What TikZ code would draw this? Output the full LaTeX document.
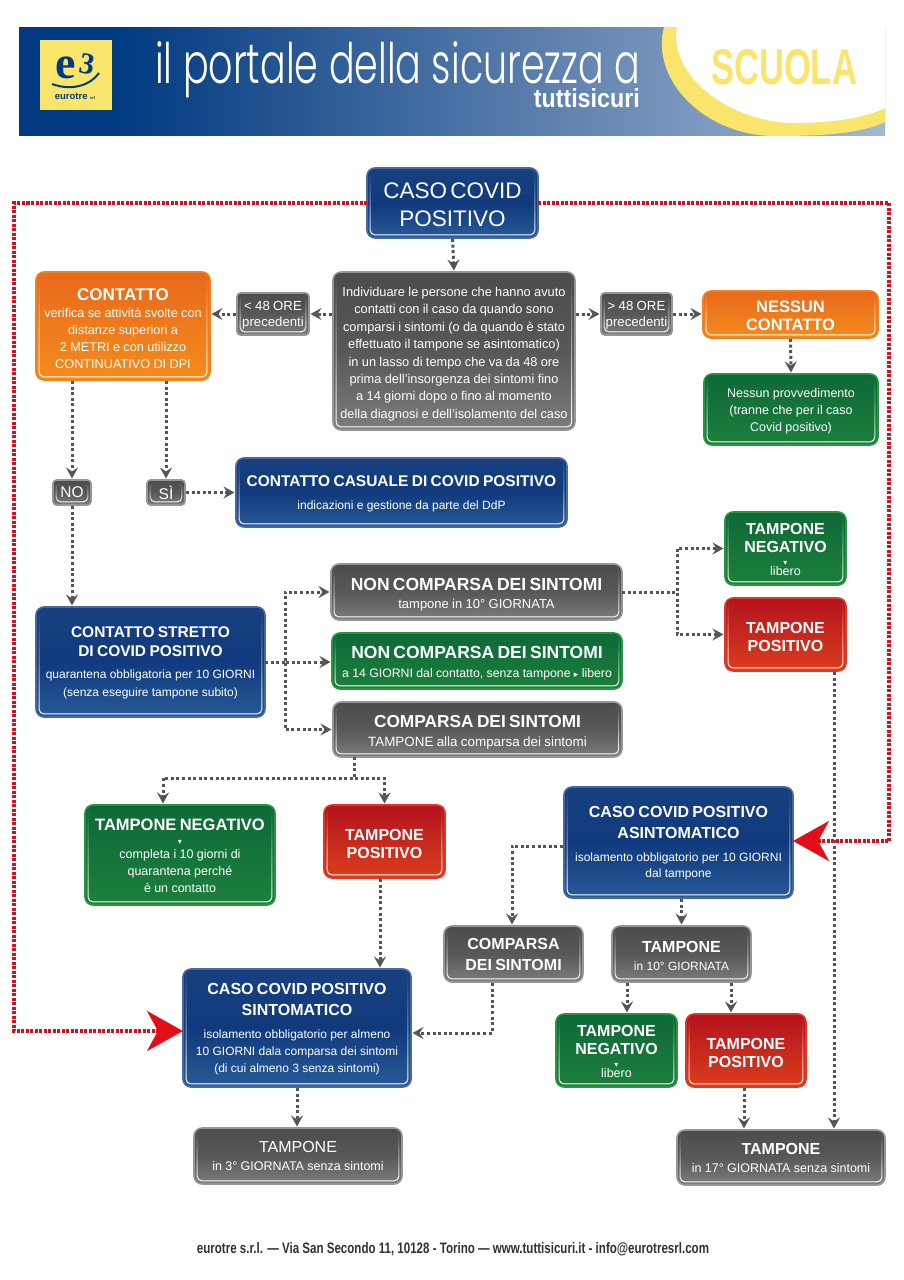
\documentclass[tikz,border=0pt]{standalone}
\usepackage{fontspec}
\setmainfont{Liberation Sans}
\newfontfamily\djv{DejaVu Sans}
\newfontfamily\popp{Poppins Light}
\newfontfamily\lserif{Liberation Serif}
\usetikzlibrary{arrows.meta,calc,fadings}
\definecolor{rd}{HTML}{D2101E}
\definecolor{bigrd}{HTML}{E30E18}
\definecolor{dotc}{HTML}{555555}
\definecolor{hdr}{HTML}{003A80}
\definecolor{hdrl}{HTML}{A5B7D2}
\definecolor{ylw}{HTML}{F9E46C}
\newcommand\Lb[3]{{\fontsize{#1}{#2}\selectfont\bfseries #3\par}}
\newcommand\Ln[3]{{\fontsize{#1}{#2}\selectfont #3\par}}
\newcommand\Pad[1]{\vskip-#1pt\hrule height 0pt width 0pt\relax}
\newcommand\Tri[1]{{\fontsize{8}{#1}\selectfont\djv ▾\par}}
\tikzset{
  bbase/.style={rounded corners=8pt,text=white,align=center,inner sep=1pt,outer sep=0pt,line width=1.6pt},
  bblue/.style={bbase,draw={rgb,255:red,72;green,104;blue,160},top color={rgb,255:red,24;green,64;blue,128},bottom color={rgb,255:red,40;green,90;blue,150},middle color={rgb,255:red,16;green,58;blue,125}},
  bgrey/.style={bbase,draw={rgb,255:red,150;green,150;blue,150},top color={rgb,255:red,76;green,76;blue,76},bottom color={rgb,255:red,125;green,125;blue,125},middle color={rgb,255:red,88;green,88;blue,88}},
  borange/.style={bbase,draw={rgb,255:red,240;green,130;blue,30},top color={rgb,255:red,232;green,105;blue,28},bottom color={rgb,255:red,244;green,140;blue,28}},
  bgreen/.style={bbase,draw={rgb,255:red,40;green,150;blue,65},top color={rgb,255:red,14;green,105;blue,55},bottom color={rgb,255:red,28;green,128;blue,60}},
  bred/.style={bbase,draw={rgb,255:red,225;green,55;blue,35},top color={rgb,255:red,180;green,18;blue,30},bottom color={rgb,255:red,218;green,62;blue,28}},
  small/.style={rounded corners=3.5pt},
  rim/.style={white,line width=1pt,rounded corners=4.5pt,path fading=north},
  dots/.style={dotc,line width=3pt,dash pattern=on 3pt off 2.6pt,-{Stealth[length=11pt,width=12pt,inset=4pt]},shorten >=1.5pt,shorten <=1pt},
  dotsp/.style={dotc,line width=3pt,dash pattern=on 3pt off 2.6pt},
  reddots/.style={rd,line width=3.4pt,dash pattern=on 3pt off 1.5pt},
  bigarrow/.style={reddots,-{Stealth[length=36pt,width=40pt,inset=11pt,bigrd]}}
}
\newcommand\mybox[7]{%
  \pgfmathsetmacro\bw{#5-#3}\pgfmathsetmacro\bh{#6-#4}%
  \pgfmathsetmacro\bcx{(#3+#5)/2}\pgfmathsetmacro\bcy{(#4+#6)/2}\pgfmathsetmacro\btw{#5-#3-4}%
  \node[#2,minimum width=\bw pt,minimum height=\bh pt,text width=\btw pt] (#1) at (\bcx,\bcy) {#7};
  \draw[rim] ([shift={(3.2,3.2)}]#1.north west) rectangle ([shift={(-3.2,-3.2)}]#1.south east);
}
\begin{document}
\begin{tikzpicture}[x=1pt,y=-1pt]
\useasboundingbox[fill=white] (0,0) rectangle (904,1280);
% header
\begin{scope}
\clip (19,27) rectangle (885,136);
\fill[hdr] (19,27) rectangle (120,136);
\shade[left color=hdr,middle color=hdr,right color=hdrl] (115,27) rectangle (885,136);
\fill[ylw] (664,27) .. controls (650,80) and (705,136) .. (775,136) .. controls (820,136) and (860,134) .. (885,122) -- (885,27) -- cycle;
\fill[white] (677,27) .. controls (668,75) and (730,123) .. (795,123) .. controls (830,123) and (865,118) .. (885,108) -- (885,27) -- cycle;
\end{scope}
\fill[white] (15,136) rectangle (890,141);
\fill[ylw] (40,40) rectangle (112,110);
\node[text=hdr,inner sep=0pt] (elogo) at (66,68) {\fontsize{46}{46}\selectfont\lserif\bfseries e};
\node[text=hdr,inner sep=0pt,rotate=-10] (trelogo) at (87,64) {\fontsize{30}{30}\selectfont\lserif\bfseries 3};
\draw[hdr,line width=2pt] (52,84) .. controls (68,90) and (88,88) .. (99,73);
\node[text=hdr,inner sep=0pt] (eurotre) at (75,96) {\fontsize{9.5}{10}\selectfont\bfseries eurotre \fontsize{4}{4}\selectfont srl};
\node[text=white,inner sep=0pt,anchor=west] (portale) at (155,70) {\resizebox{485pt}{42pt}{\popp il portale della sicurezza a}};
\node[text=white,inner sep=0pt,anchor=east] (tutti) at (640,98) {\resizebox{106pt}{19pt}{\bfseries tuttisicuri}};
\node[text=ylw,inner sep=0pt] (scuola) at (784,67) {\resizebox{146pt}{35pt}{\bfseries SCUOLA}};
% red connector corners
\coordinate (rl1) at (14,203);
\coordinate (rl2) at (14,1031);
\coordinate (rr1) at (889,203);
\coordinate (rr2) at (889,841);
% boxes
\mybox{caso}{bblue}{367}{168}{538}{238}{\Lb{22.5}{27}{\mdseries CASO COVID}\Lb{22.5}{28}{\mdseries POSITIVO}\Pad{3}}
\mybox{main}{bgrey}{333}{272}{575}{430}{%
 \Ln{12.8}{17.4}{Individuare le persone che hanno avuto}\Ln{12.8}{17.4}{contatti con il caso da quando sono}\Ln{12.8}{17.4}{comparsi i sintomi (o da quando è stato}\Ln{12.8}{17.4}{effettuato il tampone se asintomatico)}\Ln{12.8}{17.4}{in un lasso di tempo che va da 48 ore}\Ln{12.8}{17.4}{prima dell'insorgenza dei sintomi fino}\Ln{12.8}{17.4}{a 14 giorni dopo o fino al momento}\Ln{12.8}{17.4}{della diagnosi e dell'isolamento del caso}\Pad{6}}
\mybox{contatto}{borange}{36}{272}{210}{380}{\Lb{17}{20}{CONTATTO}\Ln{12.7}{17}{verifica se attività svolte con}\Ln{12.7}{17}{distanze superiori a}\Ln{12.7}{17}{2 METRI e con utilizzo}\Ln{12.7}{17}{CONTINUATIVO DI DPI}\Pad{6}}
\mybox{lt}{bgrey,small}{237}{293}{309}{335}{\Ln{13.2}{16}{< 48 ORE}\Ln{13.2}{16}{precedenti}\Pad{2}}
\mybox{gt}{bgrey,small}{601}{293}{672}{335}{\Ln{13.2}{16}{> 48 ORE}\Ln{13.2}{16}{precedenti}\Pad{2}}
\mybox{nessun}{borange}{703}{291}{878}{338}{\Lb{16.5}{18}{NESSUN}\Lb{16.5}{18}{CONTATTO}\Pad{3}}
\mybox{prov}{bgreen}{704}{374}{878}{445}{\Ln{12.5}{17}{Nessun provvedimento}\Ln{12.5}{17}{(tranne che per il caso}\Ln{12.5}{17}{Covid positivo)}\Pad{4}}
\mybox{no}{bgrey,small}{53}{480}{91}{505}{\Ln{15.5}{18}{NO}}
\mybox{si}{bgrey,small}{147}{480}{185}{505}{\Ln{15.5}{18}{SÌ}}
\mybox{casuale}{bblue}{236}{458}{567}{527}{\Lb{15.5}{20}{CONTATTO CASUALE DI COVID POSITIVO}\Ln{12}{23}{indicazioni e gestione da parte del DdP}\Pad{3}}
\mybox{nc}{bgrey}{331}{564}{622}{620}{\Lb{17.5}{20}{NON COMPARSA DEI SINTOMI}\Ln{13}{18}{tampone in 10° GIORNATA}\Pad{6}}
\mybox{ncg}{bgreen}{332}{633}{622}{689}{\Lb{17.5}{20}{NON COMPARSA DEI SINTOMI}\Ln{12.3}{19}{a 14 GIORNI dal contatto, senza tampone {\djv\fontsize{9}{9}\selectfont ▸} libero}\Pad{5}}
\mybox{comp}{bgrey}{333}{702}{622}{757}{\Lb{17.3}{20}{COMPARSA DEI SINTOMI}\Ln{13.4}{19}{TAMPONE alla comparsa dei sintomi}\Pad{5}}
\mybox{negt}{bgreen}{725}{512}{846}{585}{\Lb{16}{18}{TAMPONE}\Lb{16}{18}{NEGATIVO}\Tri{13}\Ln{12.5}{10}{libero}\Pad{1}}
\mybox{post}{bred}{725}{598}{846}{671}{\Lb{16}{18}{TAMPONE}\Lb{16}{18}{POSITIVO}\Pad{4}}
\mybox{stretto}{bblue}{36}{607}{265}{717}{\Lb{15.5}{19}{CONTATTO STRETTO}\Lb{15.5}{19}{DI COVID POSITIVO}\Ln{12}{22}{quarantena obbligatoria per 10 GIORNI}\Ln{12}{18}{(senza eseguire tampone subito)}\Pad{1}}
\mybox{negl}{bgreen}{85}{805}{275}{905}{\Lb{16.5}{18}{TAMPONE NEGATIVO}\Tri{14}\Ln{12.5}{14}{completa i 10 giorni di}\Ln{12.5}{17}{quarantena perché}\Ln{12.5}{17}{è un contatto}\Pad{1}}
\mybox{posm}{bred}{324}{805}{445}{878}{\Lb{16}{18}{TAMPONE}\Lb{16}{18}{POSITIVO}\Pad{4}}
\mybox{asint}{bblue}{564}{787}{793}{898}{\Lb{16}{21}{CASO COVID POSITIVO}\Lb{16}{21}{ASINTOMATICO}\Ln{12}{23}{isolamento obbligatorio per 10 GIORNI}\Ln{12}{16}{dal tampone}\Pad{1}}
\mybox{compd}{bgrey}{444}{926}{583}{982}{\Lb{16}{21}{COMPARSA}\Lb{16}{21}{DEI SINTOMI}}
\mybox{tdieci}{bgrey}{612}{926}{751}{982}{\Lb{16}{18}{TAMPONE}\Ln{12}{18}{in 10° GIORNATA}\Pad{3}}
\mybox{sint}{bblue}{183}{969}{411}{1087}{\Lb{16}{21}{CASO COVID POSITIVO}\Lb{16}{21}{SINTOMATICO}\Ln{12}{23}{isolamento obbligatorio per almeno}\Ln{12}{17}{10 GIORNI dala comparsa dei sintomi}\Ln{12}{17}{(di cui almeno 3 senza sintomi)}\Pad{2}}
\mybox{negb}{bgreen}{556}{1014}{677}{1087}{\Lb{16}{18}{TAMPONE}\Lb{16}{18}{NEGATIVO}\Tri{13}\Ln{12.5}{10}{libero}\Pad{1}}
\mybox{posb}{bred}{686}{1014}{806}{1087}{\Lb{16}{18}{TAMPONE}\Lb{16}{18}{POSITIVO}\Pad{4}}
\mybox{ttre}{bgrey}{194}{1128}{402}{1184}{\Ln{16}{18}{TAMPONE}\Ln{12.5}{18}{in 3° GIORNATA senza sintomi}}
\mybox{tdic}{bgrey}{677}{1130}{885}{1185}{\Lb{16}{18}{TAMPONE}\Ln{12.5}{18}{in 17° GIORNATA senza sintomi}}
\node[inner sep=0pt,text={rgb,255:red,50;green,50;blue,50}] (footer) at (453,1249) {\resizebox{512pt}{11pt}{\bfseries eurotre s.r.l. — Via San Secondo 11, 10128 - Torino — www.tuttisicuri.it - info@eurotresrl.com}};
% red connectors
\draw[bigarrow] (caso.west) -- (rl1) -- (rl2) -- (rl2 -| sint.west);
\draw[bigarrow] (caso.east) -- (rr1) -- (rr2) -- (rr2 -| asint.east);
% grey connectors
\coordinate (j1) at (285,662);
\coordinate (j2) at (677,592);
\coordinate (j3) at (354,778);
\coordinate (j4) at (512,846);
\coordinate (j5) at (492,1033);
\draw[dots] (caso.south) -- (main.north);
\draw[dots] (main.west |- lt.east) -- (lt.east);
\draw[dots] (lt.west) -- (contatto.east |- lt.west);
\draw[dots] (main.east |- gt.west) -- (gt.west);
\draw[dots] (gt.east) -- (nessun.west |- gt.east);
\draw[dots] (nessun.south) -- (prov.north);
\draw[dots] (contatto.south -| no.north) -- (no.north);
\draw[dots] (contatto.south -| si.north) -- (si.north);
\draw[dots] (si.east) -- (casuale.west);
\draw[dots] (no.south) -- (stretto.north -| no.south);
\draw[dotsp] (stretto.east |- j1) -- (j1);
\draw[dots] (j1) |- (nc.west);
\draw[dots] (j1) -- (ncg.west |- j1);
\draw[dots] (j1) |- (comp.west);
\draw[dotsp] (nc.east) -- (j2);
\draw[dots] (j2) |- (negt.west);
\draw[dots] (j2) |- (post.west);
\draw[dots] (post.south -| 834,0) -- (tdic.north -| 834,0);
\draw[dotsp] (comp.south -| j3) -- (j3);
\draw[dots] (j3) -- (j3 -| 163,0) -- (negl.north -| 163,0);
\draw[dots] (j3) -| (posm.north);
\draw[dots] (posm.south -| 380,0) -- (sint.north -| 380,0);
\draw[dots] (sint.south) -- (ttre.north -| sint.south);
\draw[dots] (asint.west |- j4) -- (j4) -- (compd.north -| j4);
\draw[dots] (compd.south -| j5) -- (j5) -- (sint.east |- j5);
\draw[dots] (asint.south -| tdieci.north) -- (tdieci.north);
\draw[dots] (tdieci.south -| 627,0) -- (negb.north -| 627,0);
\draw[dots] (tdieci.south -| 731,0) -- (posb.north -| 731,0);
\draw[dots] (posb.south -| 744,0) -- (tdic.north -| 744,0);
\end{tikzpicture}
\end{document}
